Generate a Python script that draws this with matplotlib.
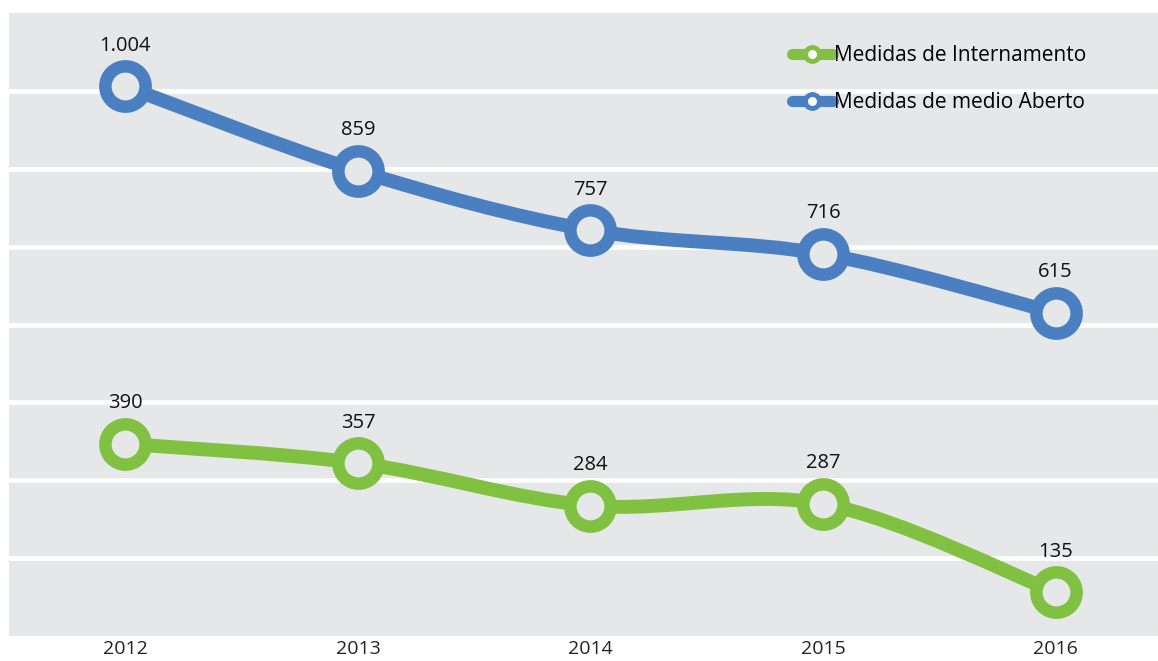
import numpy as np
import matplotlib.pyplot as plt
from matplotlib.path import Path
from matplotlib.patches import PathPatch
from matplotlib.lines import Line2D

# ============================================================
# DATA
# ============================================================
years = [2012, 2013, 2014, 2015, 2016]
internamento = [390, 357, 284, 287, 135]
medio_aberto = [1004, 859, 757, 716, 615]
series_names = ["Medidas de Internamento", "Medidas de medio Aberto"]

# ============================================================
# STYLE
# ============================================================
GREEN = "#80c141"
BLUE = "#4a7fc1"
BG = "#e6e7e8"
plt.rcParams["font.family"] = ["Open Sans", "DejaVu Sans"]


def fmt(v):
    # thousands separator as a dot
    return f"{v:,}".replace(",", ".")


def smooth_path(xs, ys):
    # Catmull-Rom style bezier through the points (like a smoothed Excel line)
    xs = np.asarray(xs, float)
    ys = np.asarray(ys, float)
    n = len(xs)
    verts = [(xs[0], ys[0])]
    codes = [Path.MOVETO]
    for i in range(n - 1):
        p0 = np.array([xs[max(i - 1, 0)], ys[max(i - 1, 0)]])
        p1 = np.array([xs[i], ys[i]])
        p2 = np.array([xs[i + 1], ys[i + 1]])
        p3 = np.array([xs[min(i + 2, n - 1)], ys[min(i + 2, n - 1)]])
        c1 = p1 + (p2 - p0) / 6.0
        c2 = p2 - (p3 - p1) / 6.0
        verts += [tuple(c1), tuple(c2), tuple(p2)]
        codes += [Path.CURVE4] * 3
    return Path(verts, codes)


fig = plt.figure(figsize=(11.58, 6.61), dpi=100)
ax = fig.add_axes([9 / 1158, 25 / 661, 1 - 9 / 1158, 623 / 661])
ax.set_facecolor(BG)

y_lo, y_hi = 60, 1130
ax.set_ylim(y_lo, y_hi)
ax.set_xlim(2011.5, 2016.44)
ax.set_yticks(np.linspace(y_lo, y_hi, 9)[1:-1])
ax.set_yticklabels([])
ax.tick_params(axis="y", length=0)
ax.set_xticks(years)
ax.set_xticklabels([str(y) for y in years], fontsize=14, color="#222222")
ax.tick_params(axis="x", length=0, pad=3)
ax.grid(axis="y", color="white", linewidth=3.4)
ax.set_axisbelow(True)
for s in ax.spines.values():
    s.set_visible(False)

for vals, col in [(medio_aberto, BLUE), (internamento, GREEN)]:
    ax.add_patch(PathPatch(smooth_path(years, vals), facecolor="none",
                           edgecolor=col, linewidth=10, capstyle="round", zorder=3))
    ax.plot(years, vals, linestyle="none", marker="o", markersize=29,
            markerfacecolor=BG, markeredgecolor=col, markeredgewidth=9, zorder=4)
    for x, v in zip(years, vals):
        ax.annotate(fmt(v), (x, v), xytext=(0, 22), textcoords="offset points",
                    ha="center", va="bottom", fontsize=14.5, color="#111111")

handles = [
    Line2D([], [], color=GREEN, linewidth=8, marker="o", markersize=10,
           markerfacecolor="white", markeredgecolor=GREEN, markeredgewidth=3.5,
           solid_capstyle="round"),
    Line2D([], [], color=BLUE, linewidth=8, marker="o", markersize=10,
           markerfacecolor="white", markeredgecolor=BLUE, markeredgewidth=3.5,
           solid_capstyle="round"),
]
ax.legend(handles, series_names, loc="upper right", bbox_to_anchor=(0.945, 0.962),
          frameon=False, fontsize=15, handlelength=2.0, handletextpad=0.05,
          labelspacing=1.25, borderaxespad=0)

fig.savefig("out.png", dpi=100, facecolor="white")
